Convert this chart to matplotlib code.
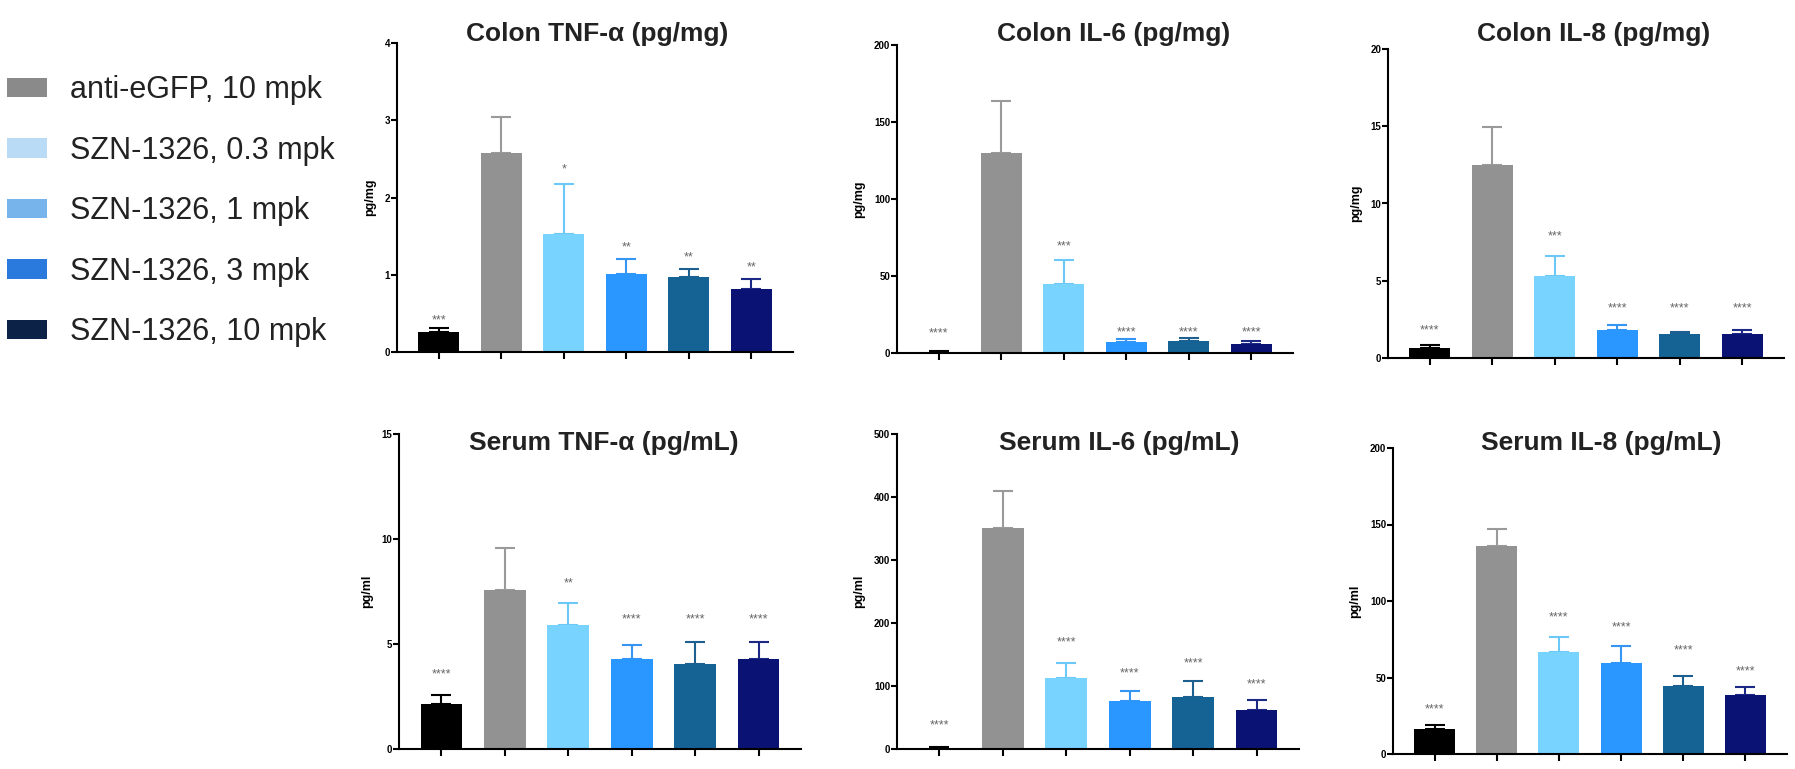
import matplotlib
matplotlib.use("Agg")
import matplotlib.pyplot as plt
from matplotlib.patches import Patch

plt.rcParams['font.family'] = ['Liberation Sans', 'DejaVu Sans']

# legend (separate key on the left)
legend_labels = ['anti-eGFP, 10 mpk', 'SZN-1326, 0.3 mpk', 'SZN-1326, 1 mpk',
                 'SZN-1326, 3 mpk', 'SZN-1326, 10 mpk']
legend_colors = ['#8a8a8a', '#b9dbf6', '#76b4eb', '#2a79dc', '#0c2246']

# bars in each panel
groups = ['naive', 'anti-eGFP 10', 'SZN 0.3', 'SZN 1', 'SZN 3', 'SZN 10']
bar_colors = ['#000000', '#929292', '#78d4ff', '#2a96ff', '#156394', '#0a1273']
err_colors = ['#000000', '#9a9a9a', '#6cc8f6', '#3496f2', '#1d6090', '#1c2a86']

titles = ['Colon TNF-α (pg/mg)', 'Colon IL-6 (pg/mg)', 'Colon IL-8 (pg/mg)',
          'Serum TNF-α (pg/mL)', 'Serum IL-6 (pg/mL)', 'Serum IL-8 (pg/mL)']
ylabels = ['pg/mg', 'pg/mg', 'pg/mg', 'pg/ml', 'pg/ml', 'pg/ml']
ymax = [4, 200, 20, 15, 500, 200]
ystep = [1, 50, 5, 5, 100, 50]

colon_tnf_mean = [0.26, 2.58, 1.53, 1.01, 0.97, 0.82]
colon_tnf_top = [0.31, 3.04, 2.18, 1.20, 1.07, 0.95]
colon_il6_mean = [0.9, 130, 44.5, 6.9, 7.6, 5.8]
colon_il6_top = [1.1, 163.7, 60.7, 8.9, 9.5, 7.8]
colon_il8_mean = [0.67, 12.46, 5.30, 1.81, 1.53, 1.57]
colon_il8_top = [0.82, 14.98, 6.62, 2.16, 1.66, 1.83]
serum_tnf_mean = [2.14, 7.57, 5.90, 4.30, 4.05, 4.29]
serum_tnf_top = [2.59, 9.56, 6.97, 4.97, 5.10, 5.10]
serum_il6_mean = [2, 351, 112.7, 75.7, 82, 62.4]
serum_il6_top = [3, 409, 137, 91.5, 108, 78.3]
serum_il8_mean = [16.6, 136, 66.4, 59.3, 44.2, 38.6]
serum_il8_top = [19.2, 147.3, 76.7, 70.4, 51.2, 43.8]

# significance marks vs anti-eGFP and the height they sit at
colon_tnf_stars = ['***', '', '*', '**', '**', '**']
colon_il6_stars = ['****', '', '***', '****', '****', '****']
colon_il8_stars = ['****', '', '***', '****', '****', '****']
serum_tnf_stars = ['****', '', '**', '****', '****', '****']
serum_il6_stars = ['****', '', '****', '****', '****', '****']
serum_il8_stars = ['****', '', '****', '****', '****', '****']
colon_tnf_star_y = [0.41, 0, 2.36, 1.36, 1.22, 1.09]
colon_il6_star_y = [12.5, 0, 68.9, 13.4, 13.4, 13.4]
colon_il8_star_y = [1.79, 0, 7.87, 3.19, 3.19, 3.19]
serum_tnf_star_y = [3.54, 0, 7.90, 6.16, 6.16, 6.16]
serum_il6_star_y = [37, 0, 169, 119.6, 136, 102]
serum_il8_star_y = [29, 0, 89, 83, 67.8, 53.8]

means = [colon_tnf_mean, colon_il6_mean, colon_il8_mean,
         serum_tnf_mean, serum_il6_mean, serum_il8_mean]
tops = [colon_tnf_top, colon_il6_top, colon_il8_top,
        serum_tnf_top, serum_il6_top, serum_il8_top]
stars = [colon_tnf_stars, colon_il6_stars, colon_il8_stars,
         serum_tnf_stars, serum_il6_stars, serum_il8_stars]
star_y = [colon_tnf_star_y, colon_il6_star_y, colon_il8_star_y,
          serum_tnf_star_y, serum_il6_star_y, serum_il8_star_y]

# axes boxes in pixels (left, top, right, bottom)
W, H = 1795, 769
boxes_px = [(397, 43, 793, 352), (897, 45, 1293, 353), (1388, 49, 1784, 358),
            (399, 434, 801, 749), (897, 434, 1299, 749), (1393, 448, 1787, 754)]
title_x = [0.505, 0.548, 0.52, 0.51, 0.552, 0.528]
title_y_px = [34, 34, 34, 443, 443, 443]

fig = plt.figure(figsize=(W / 100, H / 100), dpi=100)

for i in range(6):
    l, t, r, b = boxes_px[i]
    ax = fig.add_axes([l / W, 1 - b / H, (r - l) / W, (b - t) / H])
    x = list(range(len(groups)))
    ax.bar(x, means[i], width=0.66, color=bar_colors, zorder=2)
    for j in x:
        ax.errorbar(j, means[i][j], yerr=[[0], [tops[i][j] - means[i][j]]],
                    fmt='none', ecolor=err_colors[j], elinewidth=1.5,
                    capsize=7.5, capthick=1.5, zorder=1)
        if stars[i][j]:
            ax.text(j, star_y[i][j], stars[i][j], ha='center', va='center',
                    fontsize=9, color='#666666')
    ax.set_xlim(-0.67, 5.67)
    ax.set_ylim(0, ymax[i])
    ax.set_yticks(range(0, ymax[i] + 1, ystep[i]))
    ax.set_xticks(x)
    ax.set_xticklabels([])
    for s in ['top', 'right']:
        ax.spines[s].set_visible(False)
    for s in ['left', 'bottom']:
        ax.spines[s].set_linewidth(1.5)
    ax.tick_params(axis='y', length=4, width=1.5, labelsize=7, pad=1)
    ax.tick_params(axis='x', length=5, width=1.5)
    for lab in ax.get_yticklabels():
        lab.set_fontweight('bold')
    ax.set_ylabel(ylabels[i], fontsize=9, fontweight='bold', labelpad=6)
    fig.text((l + title_x[i] * (r - l)) / W, 1 - title_y_px[i] / H, titles[i],
             ha='center', va='center', fontsize=19, fontweight='bold',
             color='#222222')

handles = [Patch(facecolor=c, edgecolor='none') for c in legend_colors]
fig.legend(handles, legend_labels, loc='upper left', bbox_to_anchor=(-0.008, 0.93),
           frameon=False, fontsize=22, handlelength=1.3, handleheight=0.6,
           handletextpad=0.75, labelspacing=1.0, labelcolor='#222222',
           borderaxespad=0.3)

plt.savefig("out.png", dpi=100)
